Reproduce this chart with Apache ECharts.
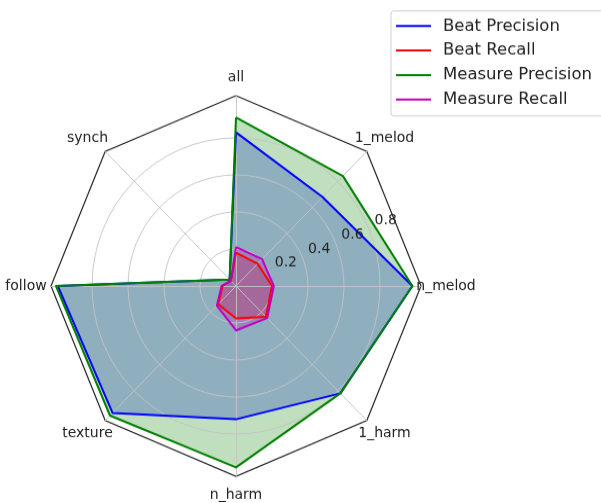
<!DOCTYPE html>
<html>
<head>
<meta charset="utf-8">
<script src="https://cdn.jsdelivr.net/npm/echarts@6/dist/echarts.min.js"></script>
<style>
  html, body { margin: 0; padding: 0; background: #ffffff; }
  body { width: 601px; height: 503px; }
  /* the figure is drawn slightly taller than wide */
  #chart { width: 601px; height: 489px; transform: scaleY(1.0286); transform-origin: 0 0; }
</style>
</head>
<body>
<div id="chart"></div>
<script>
// Axes, listed clockwise starting from the top
const categories = ['all', '1_melod', 'n_melod', '1_harm', 'n_harm', 'texture', 'follow', 'synch'];

const beatPrecision    = [0.83, 0.68, 0.98, 0.82, 0.72, 0.97, 0.99, 0.05];
const beatRecall       = [0.18, 0.17, 0.20, 0.235, 0.175, 0.14, 0.075, 0.04];
const measurePrecision = [0.91, 0.84, 0.98, 0.82, 0.98, 0.99, 1.00, 0.05];
const measureRecall    = [0.21, 0.205, 0.21, 0.245, 0.24, 0.15, 0.08, 0.04];

const seriesNames  = ['Beat Precision', 'Beat Recall', 'Measure Precision', 'Measure Recall'];
const seriesValues = [beatPrecision, beatRecall, measurePrecision, measureRecall];
const seriesColors = ['#0000ff', '#ff0000', '#008000', '#bf00bf'];

const ringTicks = [0.2, 0.4, 0.6, 0.8];

// geometry of the plot (in chart pixels)
const cx = 236, cy = 278;
const R = 180;            // pixel radius of value 1.0
const frameR = 185;       // outer octagon
const labelRx = 210, labelRy = 203;   // category label centres
const FONT = 'DejaVu Sans, sans-serif';

// ECharts lays radar indicators out counter-clockwise; reverse the tail so they run clockwise
const order = [0].concat(categories.map((_, i) => i).slice(1).reverse());
const reorder = arr => order.map(i => arr[i]);

const indicator = reorder(categories).map(name => ({ name: name, max: 1, min: 0 }));

// fills sit below the grid, outlines above it
const fillSeries = seriesNames.map((name, k) => ({
  type: 'radar',
  radarIndex: 0,
  name: name + ' fill',
  z: 1,
  symbol: 'none',
  silent: true,
  itemStyle: { color: seriesColors[k] },
  lineStyle: { width: 0, opacity: 0 },
  areaStyle: { color: seriesColors[k], opacity: 0.25 },
  emphasis: { disabled: true },
  data: [{ name: name + ' fill', value: reorder(seriesValues[k]) }]
}));

const lineSeries = seriesNames.map((name, k) => ({
  type: 'radar',
  radarIndex: 0,
  name: name,
  z: 4,
  symbol: 'none',
  itemStyle: { color: seriesColors[k] },
  lineStyle: { color: seriesColors[k], width: 2 },
  emphasis: { disabled: true },
  data: [{ name: name, value: reorder(seriesValues[k]) }]
}));

// category labels, centred on an ellipse outside the frame
const graphics = categories.map((name, i) => {
  const a = i * Math.PI * 2 / categories.length;
  return {
    type: 'text',
    x: cx + labelRx * Math.sin(a),
    y: cy - labelRy * Math.cos(a),
    z: 10,
    style: {
      text: name, align: 'center', verticalAlign: 'middle',
      fontSize: 14, fontFamily: FONT, fill: '#222'
    },
    silent: true
  };
});

// radial tick labels along the 22.5 degree direction
const tickAngle = 22.5 * Math.PI / 180;
ringTicks.forEach(v => {
  graphics.push({
    type: 'text',
    x: cx + R * v * Math.cos(tickAngle) + 5.5,
    y: cy - R * v * Math.sin(tickAngle) - 8.5,
    z: 10,
    style: {
      text: v.toFixed(1), align: 'left', verticalAlign: 'middle',
      fontSize: 14, fontFamily: FONT, fill: '#222'
    },
    silent: true
  });
});

const chart = echarts.init(document.getElementById('chart'), null, { renderer: 'canvas' });

chart.setOption({
  backgroundColor: '#ffffff',
  animation: false,
  legend: {
    data: seriesNames.map((n, i) => ({ name: n, itemStyle: { color: seriesColors[i] } })),
    orient: 'vertical',
    left: 391,
    top: 10.5,
    icon: 'rect',
    itemWidth: 35,
    itemHeight: 2,
    itemGap: 3.8,
    selectedMode: false,
    padding: [4.8, 20, 6, 5],
    borderColor: '#cfcfcf',
    borderWidth: 1,
    borderRadius: 3,
    backgroundColor: '#ffffff',
    textStyle: { fontSize: 16.5, fontFamily: FONT, color: '#222', lineHeight: 20, padding: [0, 0, 0, 7] }
  },
  radar: [
    {
      // value scale with circular grid rings at 0.2 .. 0.8
      indicator: indicator,
      center: [cx, cy],
      radius: R,
      startAngle: 90,
      shape: 'circle',
      splitNumber: 5,
      z: 2,
      axisName: { show: false },
      axisLine: { show: false },
      axisTick: { show: false },
      axisLabel: { show: false },
      splitArea: { show: false },
      splitLine: {
        lineStyle: {
          color: ['#c4c4c4', '#c4c4c4', '#c4c4c4', '#c4c4c4', '#c4c4c4', 'rgba(0,0,0,0)'],
          width: 0.9
        }
      }
    },
    {
      // octagonal frame and spokes
      indicator: indicator.map(d => ({ name: d.name, max: 1, min: 0 })),
      center: [cx, cy],
      radius: frameR,
      startAngle: 90,
      shape: 'polygon',
      splitNumber: 1,
      z: 2,
      axisName: { show: false },
      axisLine: { show: true, lineStyle: { color: '#c4c4c4', width: 0.9 } },
      axisTick: { show: false },
      axisLabel: { show: false },
      splitArea: { show: false },
      splitLine: { lineStyle: { color: '#262626', width: 1.2 } }
    }
  ],
  graphic: graphics,
  series: fillSeries.concat(lineSeries)
});
</script>
</body>
</html>
